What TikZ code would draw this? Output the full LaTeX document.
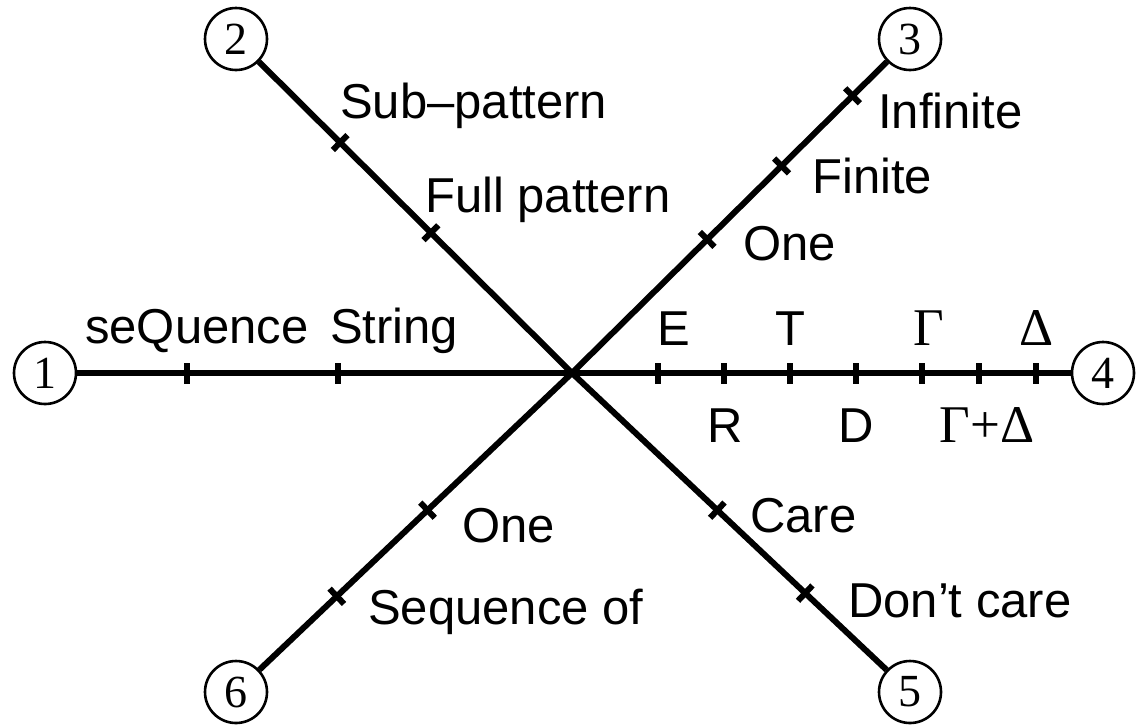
\documentclass[tikz,border=0pt]{standalone}
\usepackage{fontspec}
\setmainfont{Liberation Sans}
\newfontfamily\timesfont{Liberation Serif}
\usetikzlibrary{positioning,calc}
\tikzset{
    base/.style={font=\fontsize{49}{56}\selectfont, inner sep=0pt},
    axis/.style={line width=6pt, black},
    pole/.style={circle, draw, line width=2.6pt, fill=white, minimum size=62pt,
                 inner sep=0pt, font=\timesfont\fontsize{46}{50}\selectfont},
    tickmark/.style={rectangle, fill=black, minimum width=6pt, minimum height=21pt, inner sep=0pt},
    lbl/.style={base, anchor=base west},
    greek/.style={base, anchor=base, font=\timesfont\fontsize{53}{60}\selectfont}
}

\begin{document}
\begin{tikzpicture}[x=1pt, y=-1pt]
  \useasboundingbox (0,0) rectangle (1142,724);

  % centre and the six poles
  \coordinate (O) at (572,373);
  \node[pole] (p1) at (45,373) {1};
  \node[pole] (p2) at (236,39) {2};
  \node[pole] (p3) at (910,39) {3};
  \node[pole] (p4) at (1103,373) {4};
  \node[pole] (p5) at (910,692) {5};
  \node[pole] (p6) at (236,692) {6};

  % axes
  \foreach \i in {1,...,6}
    \draw[axis] (O) -- (p\i);

  % ticks on axis 1 and 4
  \foreach \x in {187,338,658,724,790,856,922,979,1036}
    \node[tickmark] (h\x) at (\x,373) {};

  % ticks on the slanted axes
  \node[tickmark, rotate=-44.7] (a21) at ($(O)!0.42!(p2)$) {};
  \node[tickmark, rotate=-44.7] (a22) at ($(O)!0.69!(p2)$) {};
  \node[tickmark, rotate=44.6] (a31) at ($(O)!0.40!(p3)$) {};
  \node[tickmark, rotate=44.6] (a32) at ($(O)!0.62!(p3)$) {};
  \node[tickmark, rotate=44.6] (a33) at ($(O)!0.83!(p3)$) {};
  \node[tickmark, rotate=-43.3] (a51) at ($(O)!0.43!(p5)$) {};
  \node[tickmark, rotate=-43.3] (a52) at ($(O)!0.69!(p5)$) {};
  \node[tickmark, rotate=43.5] (a61) at ($(O)!0.43!(p6)$) {};
  \node[tickmark, rotate=43.5] (a62) at ($(O)!0.70!(p6)$) {};

  % axis 1
  \node[lbl] (seq) at (85,343) {seQuence};
  \node[lbl] (str) at (330,343) {String};

  % axis 2
  \node[lbl] (sub) at (340,118) {Sub–pattern};
  \node[lbl] (full) at (425,212) {Full pattern};

  % axis 3
  \node[lbl] (inf) at (878,128) {Infinite};
  \node[lbl] (fin) at (812,193) {Finite};
  \node[lbl] (one3) at (743,260) {One};

  % axis 4
  \node[base, anchor=base] (e) at (674,345) {E};
  \node[base, anchor=base] (t) at (790,345) {T};
  \node[greek] (gam) at (929,345) {Γ};
  \node[greek] (del) at (1037,345) {Δ};
  \node[base, anchor=base] (r) at (725,442) {R};
  \node[base, anchor=base] (d) at (856,442) {D};
  \node[greek] (gd) at (987,442) {Γ+Δ};

  % axis 5
  \node[lbl] (care) at (750,532) {Care};
  \node[lbl] (dont) at (848,617) {Don’t care};

  % axis 6
  \node[lbl] (one6) at (462,542) {One};
  \node[lbl] (seqof) at (368,624) {Sequence of};
\end{tikzpicture}
\end{document}
